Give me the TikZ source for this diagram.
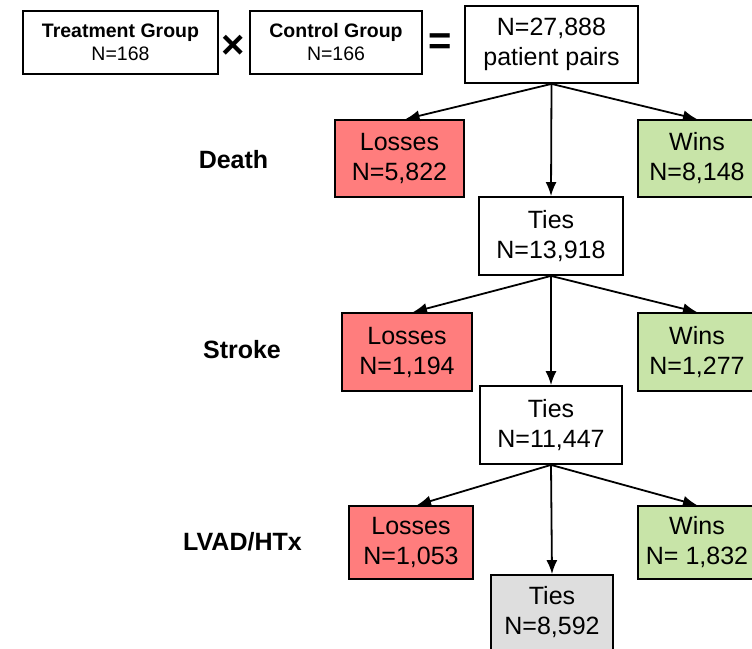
\documentclass[tikz,border=0pt]{standalone}
\usepackage{fontspec}
\setmainfont{Liberation Sans}
\usetikzlibrary{arrows.meta}
\definecolor{lossred}{RGB}{255,125,125}
\definecolor{wingreen}{RGB}{200,228,168}
\definecolor{tiegray}{RGB}{222,222,222}
\begin{document}
\begin{tikzpicture}[x=1pt,y=-1pt,
  box/.style={draw, line width=1.8pt, align=center, inner sep=0pt, minimum height=77pt,
    font=\fontsize{25}{30}\selectfont},
  groupbox/.style={box, minimum height=63pt, font=\fontsize{19.5}{23}\selectfont},
  lossbox/.style={box, fill=lossred},
  winbox/.style={box, fill=wingreen, minimum width=118pt},
  tiebox/.style={box, fill=white},
  outcome/.style={font=\fontsize{25}{30}\selectfont\bfseries},
  op/.style={font=\fontsize{40}{40}\selectfont\bfseries, inner sep=0pt},
  flow/.style={draw, line width=1.8pt, ->, >={Latex[length=14pt,width=11pt]}}]
\useasboundingbox (0,0) rectangle (752,648);
\clip (0,0) rectangle (752,648);

\node[groupbox, minimum width=195pt] (treat) at (120.5,42.5) {\textbf{Treatment Group}\\N=168};
\node[op] (times) at (233,47) {×};
\node[groupbox, minimum width=172pt] (ctrl) at (336,42.5) {\textbf{Control Group}\\N=166};
\node[op] (equals) at (440,44) {=};
\node[box, minimum width=173pt] (pairs) at (551.5,44.5) {N=27,888\\patient pairs};

% death
\node[outcome] (death) at (233.5,160) {Death};
\node[lossbox, minimum width=129pt] (loss1) at (399.5,158.5) {Losses\\N=5,822};
\node[winbox] (win1) at (697,158.5) {Wins\\N=8,148};
\node[tiebox, minimum width=144pt, minimum height=78pt] (tie1) at (551,236) {Ties\\N=13,918};

% stroke
\node[outcome] (stroke) at (242,350) {Stroke};
\node[lossbox, minimum width=130pt, minimum height=78pt] (loss2) at (407,352) {Losses\\N=1,194};
\node[winbox, minimum height=78pt] (win2) at (697,352) {Wins\\N=1,277};
\node[tiebox, minimum width=142pt, minimum height=78pt] (tie2) at (551,425) {Ties\\N=11,447};

% lvad/htx
\node[outcome] (lvad) at (242.5,542) {LVAD/HTx};
\node[lossbox, minimum width=124pt, minimum height=73pt] (loss3) at (411,542.5) {Losses\\N=1,053};
\node[winbox, minimum height=73pt] (win3) at (697,542.5) {Wins\\N= 1,832};
\node[box, fill=tiegray, minimum width=122pt, minimum height=75pt] (tie3) at (552,612.5) {Ties\\N=8,592};

\path[flow] (pairs.south) -- ([xshift=6pt]loss1.north);
\path[flow] (pairs.south) -- (win1.north);
\path[flow] (pairs.south) -- (tie1.north);
\path[flow] (tie1.south) -- ([xshift=6pt]loss2.north);
\path[flow] (tie1.south) -- (win2.north);
\path[flow] (tie1.south) -- (tie2.north);
\path[flow] (tie2.south) -- ([xshift=6pt]loss3.north);
\path[flow] (tie2.south) -- (win3.north);
\path[flow] (tie2.south) -- (tie3.north);
\end{tikzpicture}
\end{document}
